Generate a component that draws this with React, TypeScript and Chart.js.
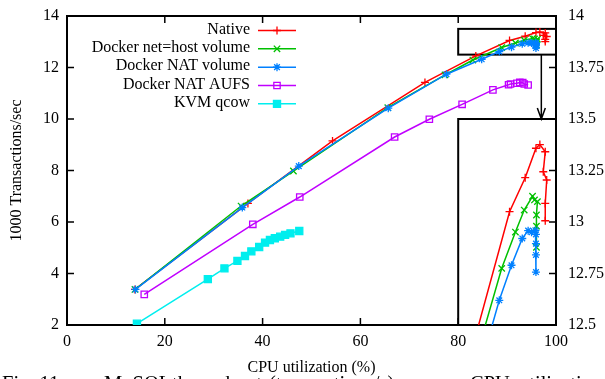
import React, { useEffect, useRef } from 'react';
import { Chart, registerables } from 'chart.js';

Chart.register(...registerables);

const FONT = '"Liberation Serif", "Times New Roman", Times, serif';

const seriesNames = ['Native', 'Docker net=host volume', 'Docker NAT volume', 'Docker NAT AUFS', 'KVM qcow'];
const seriesColors = ['#ff0000', '#00c000', '#0080ff', '#c000ff', '#00eeee'];
const seriesMarkers = ['cross', 'crossRot', 'star', 'rectOpen', 'rect'];
const seriesRadius = [4, 4.5, 4, 4.5, 5];

const nativeX = [13.9, 37.0, 54.3, 73.2, 83.6, 90.5, 93.7, 95.9, 96.7, 97.8, 97.4, 98.1, 97.8, 97.8];
const nativeY = [3.38, 6.72, 9.15, 11.42, 12.45, 13.05, 13.215, 13.358, 13.376, 13.341, 13.244, 13.204, 13.09, 13.006];

const hostX = [13.9, 35.6, 46.3, 65.6, 77.3, 83.0, 88.9, 91.7, 93.5, 95.2, 95.6, 96.2, 96.0, 96.0, 96.0];
const hostY = [3.38, 6.62, 7.98, 10.44, 11.71, 12.29, 12.775, 12.951, 13.058, 13.125, 13.107, 13.099, 13.034, 12.98, 12.877];

const natX = [14.0, 35.85, 47.4, 65.7, 77.6, 84.8, 88.4, 90.9, 93.1, 94.3, 95.0, 95.8, 95.9, 95.9, 95.9, 95.9];
const natY = [3.38, 6.56, 8.17, 10.42, 11.74, 12.32, 12.62, 12.79, 12.92, 12.958, 12.95, 12.96, 12.94, 12.895, 12.84, 12.757];

const aufsX = [15.8, 38.0, 47.6, 67.0, 74.1, 80.8, 87.1, 90.3, 90.7, 92.0, 92.6, 93.2, 93.5, 94.3];
const aufsY = [3.19, 5.91, 6.97, 9.3, 9.99, 10.57, 11.13, 11.33, 11.36, 11.39, 11.42, 11.41, 11.36, 11.32];

const kvmX = [14.3, 28.8, 32.2, 34.85, 36.4, 37.7, 39.3, 40.5, 41.5, 42.5, 43.6, 44.6, 45.7, 47.5];
const kvmY = [2.05, 3.78, 4.2, 4.49, 4.68, 4.86, 5.03, 5.2, 5.3, 5.37, 5.43, 5.5, 5.56, 5.65];

const xTicks = [0, 20, 40, 60, 80, 100];
const yTicks = [2, 4, 6, 8, 10, 12, 14];
const y2Ticks = [12.5, 12.75, 13, 13.25, 13.5, 13.75, 14];

const zoomX = [80, 100];
const zoomY = [12.5, 13.5];
const arrowX = 97;
const insetSeries = [0, 1, 2];

const captionWords = ['Fig. 11.', 'MySQL', 'throughput', '(transactions/s)', 'vs.', 'CPU', 'utilization.'];
const captionLeft = [2, 104, 172, 269, 422, 470, 519];

const allX = [nativeX, hostX, natX, aufsX, kvmX];
const allY = [nativeY, hostY, natY, aufsY, kvmY];

function pts(xs: number[], ys: number[]) {
  return xs.map((x, i) => ({ x, y: ys[i] }));
}

function chartStyle(i: number) {
  const m = seriesMarkers[i];
  return {
    borderColor: seriesColors[i],
    backgroundColor: seriesColors[i],
    borderWidth: 1.5,
    pointStyle: m === 'rectOpen' ? 'rect' : m,
    pointRadius: seriesRadius[i],
    pointBorderWidth: 1.3,
    pointBorderColor: seriesColors[i],
    pointBackgroundColor: m === 'rectOpen' ? 'rgba(255,255,255,0)' : seriesColors[i],
    showLine: true,
    tension: 0,
  };
}

function drawMarker(ctx: CanvasRenderingContext2D, kind: string, x: number, y: number, r: number, color: string) {
  ctx.save();
  ctx.strokeStyle = color;
  ctx.fillStyle = color;
  ctx.lineWidth = 1.3;
  const d = r * Math.SQRT1_2;
  ctx.beginPath();
  if (kind === 'cross' || kind === 'star') {
    ctx.moveTo(x - r, y); ctx.lineTo(x + r, y);
    ctx.moveTo(x, y - r); ctx.lineTo(x, y + r);
  }
  if (kind === 'crossRot' || kind === 'star') {
    ctx.moveTo(x - d, y - d); ctx.lineTo(x + d, y + d);
    ctx.moveTo(x - d, y + d); ctx.lineTo(x + d, y - d);
  }
  if (kind === 'rect' || kind === 'rectOpen') {
    ctx.rect(x - d, y - d, 2 * d, 2 * d);
    if (kind === 'rect') ctx.fill();
  }
  ctx.stroke();
  ctx.restore();
}

const framePlugin = {
  id: 'gnuframe',
  beforeDatasetsDraw(chart: any) {
    const { ctx, chartArea: a, scales } = chart;
    const sx = scales.x, sy = scales.y, sy2 = scales.y2;
    ctx.save();
    ctx.strokeStyle = '#000';
    ctx.lineWidth = 2;
    ctx.strokeRect(a.left, a.top, a.right - a.left, a.bottom - a.top);
    const TL = 7;
    ctx.lineWidth = 1.5;
    ctx.beginPath();
    xTicks.slice(1, -1).forEach((v) => {
      const px = sx.getPixelForValue(v);
      ctx.moveTo(px, a.bottom); ctx.lineTo(px, a.bottom - TL);
      ctx.moveTo(px, a.top); ctx.lineTo(px, a.top + TL);
    });
    yTicks.slice(1, -1).forEach((v) => {
      const py = sy.getPixelForValue(v);
      ctx.moveTo(a.left, py); ctx.lineTo(a.left + TL, py);
    });
    y2Ticks.slice(1, -1).forEach((v) => {
      const py = sy2.getPixelForValue(v);
      ctx.moveTo(a.right, py); ctx.lineTo(a.right - TL, py);
    });
    ctx.stroke();

    // zoom box in main coordinates
    ctx.lineWidth = 2;
    const bx0 = sx.getPixelForValue(zoomX[0]);
    const bx1 = sx.getPixelForValue(zoomX[1]);
    const by0 = sy.getPixelForValue(zoomY[1]);
    const by1 = sy.getPixelForValue(zoomY[0]);
    ctx.strokeRect(bx0, by0, bx1 - bx0, by1 - by0);
    // inset box
    const iy0 = sy2.getPixelForValue(zoomY[1]);
    const iy1 = sy2.getPixelForValue(zoomY[0]);
    ctx.strokeRect(bx0, iy0, bx1 - bx0, iy1 - iy0);
    // arrow
    const ax = sx.getPixelForValue(arrowX);
    ctx.lineWidth = 1.5;
    ctx.beginPath();
    ctx.moveTo(ax, by1);
    ctx.lineTo(ax, iy0);
    ctx.moveTo(ax - 4, iy0 - 11);
    ctx.lineTo(ax, iy0);
    ctx.lineTo(ax + 4, iy0 - 11);
    ctx.stroke();
    ctx.restore();
  },
  afterDatasetsDraw(chart: any) {
    const { ctx, chartArea: a } = chart;
    ctx.save();
    ctx.font = '16px ' + FONT;
    ctx.fillStyle = '#000';
    ctx.textAlign = 'right';
    ctx.textBaseline = 'middle';
    const textRight = a.left + 183;
    const l0 = a.left + 191;
    const l1 = a.left + 229;
    seriesNames.forEach((name, i) => {
      const ym = a.top + 13.5 + i * 18.33;
      ctx.fillStyle = '#000';
      ctx.fillText(name, textRight, ym);
      const yl = ym + 1;
      ctx.strokeStyle = seriesColors[i];
      ctx.lineWidth = 1.5;
      ctx.beginPath();
      ctx.moveTo(l0, yl);
      ctx.lineTo(l1, yl);
      ctx.stroke();
      drawMarker(ctx, seriesMarkers[i], (l0 + l1) / 2, yl, seriesRadius[i], seriesColors[i]);
    });
    ctx.restore();
  },
};

export default function App() {
  const ref = useRef<HTMLCanvasElement | null>(null);

  useEffect(() => {
    if (!ref.current) return;
    const mainSets = seriesNames.map((name, i) => ({
      label: name,
      data: pts(allX[i], allY[i]),
      yAxisID: 'y',
      order: 4 - i,
      ...chartStyle(i),
    }));
    const insetSets = insetSeries.map((i) => {
      const d = pts(allX[i], allY[i]).filter((p) => p.x >= zoomX[0]);
      return {
        label: seriesNames[i] + ' (zoom)',
        data: d,
        yAxisID: 'y2',
        order: 4 - i,
        clip: 0,
        ...chartStyle(i),
      };
    });

    const tickFont = { family: FONT, size: 16 };
    const vFit = (w: number) => (s: any) => {
      s.width = w;
      s.paddingTop = 0;
      s.paddingBottom = 0;
    };
    const chart = new Chart(ref.current, {
      type: 'scatter',
      data: { datasets: [...mainSets, ...insetSets] as any },
      options: {
        animation: false,
        responsive: true,
        maintainAspectRatio: false,
        layout: { padding: { top: 16, left: 0, right: 0, bottom: 0 } },
        plugins: {
          legend: { display: false },
          tooltip: { enabled: false },
        },
        scales: {
          x: {
            type: 'linear',
            min: 0,
            max: 100,
            afterBuildTicks: (s: any) => { s.ticks = xTicks.map((v) => ({ value: v })); },
            afterFit: (s: any) => { s.height = 54; s.paddingLeft = 0; s.paddingRight = 0; },
            grid: { display: false, drawTicks: false },
            border: { display: false },
            ticks: { font: tickFont, color: '#000', padding: 7, maxRotation: 0, autoSkip: false },
            title: { display: true, text: 'CPU utilization (%)', font: tickFont, color: '#000', padding: { top: 0, bottom: 2 } },
          },
          y: {
            type: 'linear',
            position: 'left',
            min: 2,
            max: 14,
            afterBuildTicks: (s: any) => { s.ticks = yTicks.map((v) => ({ value: v })); },
            afterFit: vFit(67),
            grid: { display: false, drawTicks: false },
            border: { display: false },
            ticks: { font: tickFont, color: '#000', padding: 8, autoSkip: false },
            title: { display: true, text: '1000 Transactions/sec', font: tickFont, color: '#000', padding: { top: 7, bottom: 0 } },
          },
          y2: {
            type: 'linear',
            position: 'right',
            min: 12.5,
            max: 14,
            afterBuildTicks: (s: any) => { s.ticks = y2Ticks.map((v) => ({ value: v })); },
            afterFit: vFit(49),
            grid: { display: false, drawTicks: false },
            border: { display: false },
            ticks: { font: tickFont, color: '#000', padding: 12, autoSkip: false, callback: (v: any) => String(v) },
          },
        },
      },
      plugins: [framePlugin],
    } as any);
    return () => chart.destroy();
  }, []);

  return (
    <div style={{ position: 'fixed', left: 0, top: 0, width: 605, height: 379, overflow: 'hidden', background: '#fff' }}>
      <div style={{ position: 'absolute', left: 0, top: 0, width: 605, height: 379 }}>
        <canvas ref={ref} />
      </div>
      {captionWords.map((w, i) => (
        <span
          key={i}
          style={{
            position: 'absolute',
            left: captionLeft[i],
            top: 373,
            fontFamily: FONT,
            fontSize: 20.5,
            lineHeight: '21px',
            whiteSpace: 'nowrap',
            color: '#000',
          }}
        >
          {w}
        </span>
      ))}
    </div>
  );
}
